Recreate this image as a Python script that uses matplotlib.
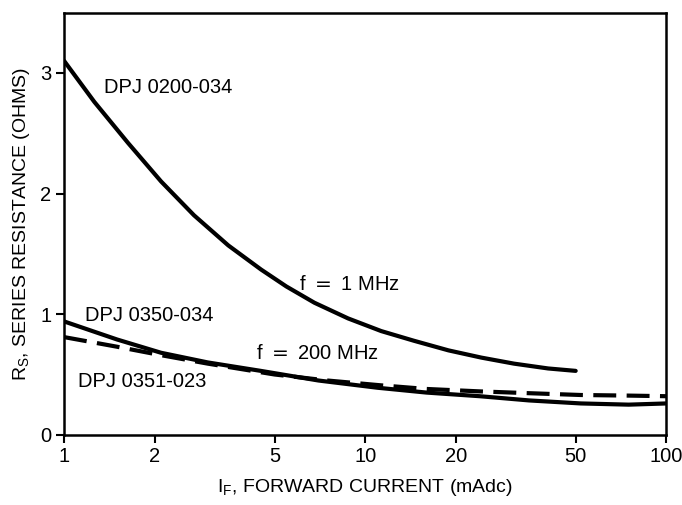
import matplotlib

matplotlib.use("Agg")
import matplotlib.pyplot as plt

plt.rcParams["font.family"] = ["Liberation Sans", "DejaVu Sans"]

# f = 1 MHz, DPJ 0200-034
i_0200 = [1.0, 1.26, 1.63, 2.10, 2.70, 3.51, 4.51, 5.47, 6.78, 8.77, 11.3, 14.5, 18.9, 24.3, 31.2, 40.5, 50.0]
rs_0200 = [3.10, 2.76, 2.42, 2.10, 1.82, 1.57, 1.37, 1.23, 1.095, 0.965, 0.86, 0.78, 0.70, 0.64, 0.59, 0.55, 0.53]

# f = 200 MHz, DPJ 0350-034 (solid)
i_0350 = [1.0, 1.5, 2.1, 3.0, 4.5, 7.0, 11.0, 16.0, 24.0, 35.0, 52.0, 75.0, 100.0]
rs_0350 = [0.94, 0.79, 0.68, 0.60, 0.53, 0.45, 0.39, 0.35, 0.32, 0.285, 0.26, 0.25, 0.26]

# f = 200 MHz, DPJ 0351-023 (dashed)
i_0351 = [1.0, 1.5, 2.1, 3.0, 5.0, 7.5, 11.3, 16.0, 24.0, 35.0, 52.0, 75.0, 100.0]
rs_0351 = [0.81, 0.73, 0.66, 0.59, 0.50, 0.45, 0.41, 0.38, 0.36, 0.345, 0.33, 0.325, 0.32]

x_ticks = [1, 2, 5, 10, 20, 50, 100]
x_labels = ["1", "2", "5", "10", "20", "50", "100"]
y_ticks = [0, 1, 2, 3]

fig = plt.figure(figsize=(6.82, 5.05), dpi=100)
ax = fig.add_axes([0.094, 0.139, 0.883, 0.836])

ax.plot(i_0200, rs_0200, color="black", linewidth=3.0, solid_capstyle="round")
ax.plot(i_0350, rs_0350, color="black", linewidth=3.0, solid_capstyle="round")
ax.plot(i_0351, rs_0351, color="black", linewidth=3.0, linestyle=(0, (5.5, 2.5)))

ax.set_xscale("log")
ax.set_xlim(1, 100)
ax.set_ylim(0, 3.5)
ax.set_xticks(x_ticks)
ax.set_xticklabels(x_labels)
ax.minorticks_off()
ax.set_yticks(y_ticks)
ax.tick_params(direction="out", length=6, width=1.5, labelsize=14.5, pad=3)

for s in ax.spines.values():
    s.set_linewidth(1.8)

fs = 14.5
ax.text(1.36, 2.88, "DPJ 0200-034", fontsize=fs, va="center", ha="left")
ax.text(6.03, 1.25, "f $=$ 1 MHz", fontsize=fs, va="center", ha="left")
ax.text(1.17, 0.99, "DPJ 0350-034", fontsize=fs, va="center", ha="left")
ax.text(4.35, 0.67, "f $=$ 200 MHz", fontsize=fs, va="center", ha="left")
ax.text(1.11, 0.44, "DPJ 0351-023", fontsize=fs, va="center", ha="left")

ax.set_xlabel(r"I$_\mathregular{F}$, FORWARD CURRENT (mAdc)", fontsize=14, labelpad=8)
ax.set_ylabel(r"R$_\mathregular{S}$, SERIES RESISTANCE (OHMS)", fontsize=14, labelpad=6)

fig.savefig("out.png", dpi=100)
plt.close(fig)
